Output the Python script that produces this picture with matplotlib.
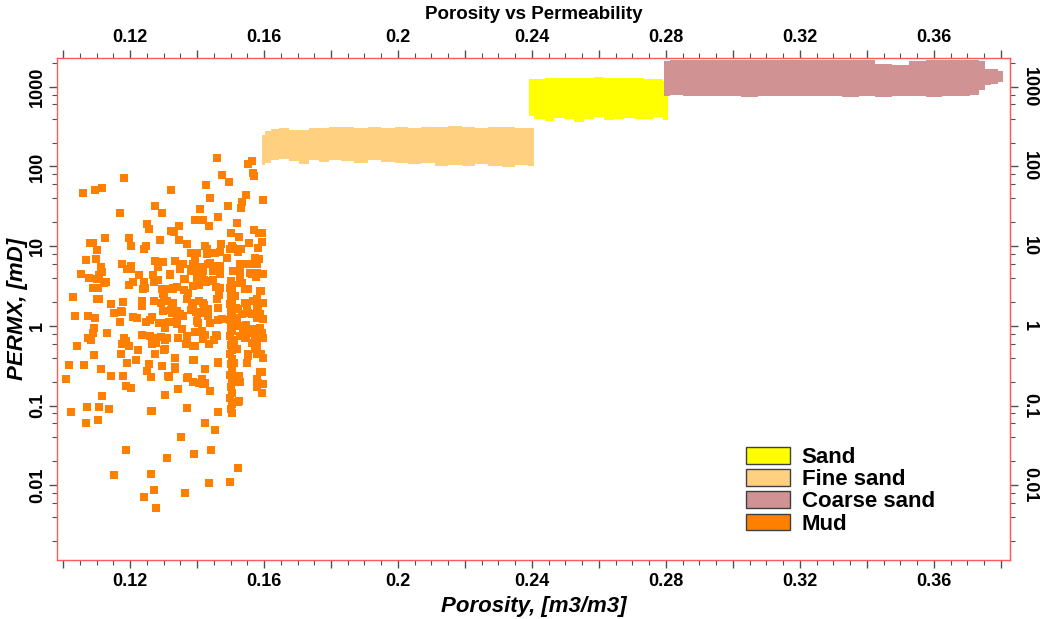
import matplotlib
matplotlib.use("Agg")
import matplotlib.pyplot as plt
from matplotlib.patches import Patch
from matplotlib.ticker import FixedLocator, MultipleLocator, FuncFormatter, NullFormatter

plt.rcParams['font.family'] = ['Liberation Sans', 'DejaVu Sans']

# facies colours
COLORS = {
    'Sand': '#ffff00',
    'Fine sand': '#ffd080',
    'Coarse sand': '#d09292',
    'Mud': '#ff8000',
}

# dense facies drawn as envelopes (porosity, upper perm, lower perm)
fine_x = [0.1595, 0.161, 0.163, 0.166, 0.169, 0.172, 0.175, 0.178, 0.181, 0.185,
          0.189, 0.193, 0.197, 0.201, 0.205, 0.209, 0.213, 0.217, 0.221, 0.225,
          0.229, 0.233, 0.237, 0.2405]
fine_top = [250, 280, 295, 300, 290, 285, 305, 300, 315, 310,
            305, 315, 300, 310, 305, 310, 315, 320, 310, 305,
            315, 310, 305, 300]
fine_bot = [105, 112, 120, 125, 118, 108, 122, 115, 120, 118,
            112, 120, 115, 112, 108, 110, 100, 104, 100, 106,
            102, 98, 104, 102]

sand_x = [0.2390, 0.2425, 0.245, 0.248, 0.251, 0.254, 0.257, 0.260, 0.263,
          0.266, 0.269, 0.272, 0.275, 0.278, 0.2805]
sand_top = [1250, 1270, 1280, 1290, 1300, 1300, 1290, 1310, 1300,
            1300, 1290, 1280, 1270, 1250, 1200]
sand_bot = [430, 390, 370, 410, 400, 360, 390, 420, 380,
            400, 410, 395, 400, 420, 380]

coarse_x = [0.2795, 0.283, 0.287, 0.291, 0.295, 0.30, 0.305, 0.31, 0.315, 0.32,
            0.325, 0.33, 0.335, 0.34, 0.345, 0.35, 0.355, 0.36, 0.365, 0.369,
            0.3725, 0.3745, 0.376, 0.378, 0.3805]
coarse_top = [2100, 2200, 2150, 2200, 2180, 2200, 2160, 2200, 2190, 2200,
              2180, 2200, 2150, 2150, 1950, 1900, 2100, 2150, 2150, 2150,
              2150, 2100, 1650, 1650, 1600]
coarse_bot = [760, 790, 760, 770, 760, 760, 750, 770, 760, 760,
              770, 760, 750, 760, 740, 760, 770, 750, 760, 760,
              800, 900, 1050, 1100, 1150]

# mud samples
mud_poro = [
    0.1460, 0.1475, 0.1496, 0.1552, 0.1564, 0.1567, 0.1570, 0.1597, 0.1060, 0.1096,
    0.1116, 0.1182, 0.1322, 0.1170, 0.1427, 0.1439, 0.1275, 0.1296, 0.1409, 0.1463,
    0.1493, 0.1531, 0.1534, 0.1546, 0.1394, 0.1418, 0.1436, 0.1251, 0.1257, 0.1346,
    0.1322, 0.1331, 0.1519, 0.1501, 0.1525, 0.1570, 0.1585, 0.1594, 0.1594, 0.1582,
    0.1081, 0.1090, 0.1125, 0.1101, 0.1197, 0.1203, 0.1290, 0.1346, 0.1370, 0.1242,
    0.1248, 0.1382, 0.1400, 0.1430, 0.1430, 0.1454, 0.1469, 0.1472, 0.1499, 0.1507,
    0.1531, 0.1555, 0.1069, 0.1054, 0.1099, 0.1113, 0.1116, 0.1107, 0.1128, 0.1122,
    0.1078, 0.1101, 0.1090, 0.1104, 0.1101, 0.1107, 0.1030, 0.1036, 0.1075, 0.1096,
    0.1143, 0.1152, 0.1179, 0.1173, 0.1176, 0.1191, 0.1203, 0.1203, 0.1197, 0.1209,
    0.1227, 0.1242, 0.1239, 0.1245, 0.1275, 0.1299, 0.1284, 0.1269, 0.1284, 0.1272,
    0.1334, 0.1358, 0.1319, 0.1328, 0.1299, 0.1394, 0.1388, 0.1394, 0.1382, 0.1409,
    0.1433, 0.1460, 0.1448, 0.1469, 0.1400, 0.1421, 0.1427, 0.1406, 0.1361, 0.1361,
    0.1373, 0.1448, 0.1457, 0.1466, 0.1236, 0.1236, 0.1272, 0.1293, 0.1301, 0.1319,
    0.1340, 0.1328, 0.1322, 0.1340, 0.1349, 0.1370, 0.1385, 0.1406, 0.1421, 0.1409,
    0.1433, 0.1507, 0.1528, 0.1534, 0.1534, 0.1543, 0.1558, 0.1579, 0.1564, 0.1576,
    0.1573, 0.1585, 0.1597, 0.1591, 0.1567, 0.1579, 0.1588, 0.1564, 0.1549, 0.1266,
    0.1209, 0.1221, 0.1490, 0.1424, 0.1504, 0.1522, 0.1528, 0.1382, 0.1439,
    # crowded middle
    0.1319, 0.1349, 0.1418, 0.1448, 0.1469, 0.1528, 0.1558, 0.1579, 0.1296, 0.1328,
    0.1364, 0.1388, 0.1415, 0.1439, 0.1469, 0.1528, 0.1552, 0.1588, 0.1310, 0.1388,
    0.1418, 0.1460, 0.1513, 0.1543, 0.1579, 0.1597, 0.1299, 0.1325, 0.1358, 0.1403,
    0.1433, 0.1463, 0.1522, 0.1552, 0.1582, 0.1597, 0.1304, 0.1340, 0.1400, 0.1439,
    0.1475, 0.1528, 0.1564, 0.1588, 0.1310, 0.1343, 0.1370, 0.1388, 0.1418, 0.1460,
    0.1528, 0.1543, 0.1573, 0.1579, 0.1304, 0.1334, 0.1388, 0.1463, 0.1552, 0.1579,
    0.1597, 0.1296, 0.1334, 0.1313, 0.1370, 0.1388, 0.1418, 0.1522, 0.1528, 0.1588,
    0.1582,
    # lower part
    0.1042, 0.1018, 0.1009, 0.1024, 0.1063, 0.1093, 0.1075, 0.1084, 0.1090, 0.1093,
    0.1131, 0.1113, 0.1116, 0.1072, 0.1069, 0.1107, 0.1104, 0.1137, 0.1143, 0.1170,
    0.1176, 0.1176, 0.1173, 0.1179, 0.1191, 0.1182, 0.1188, 0.1197, 0.1188, 0.1203,
    0.1224, 0.1218, 0.1236, 0.1248, 0.1260, 0.1251, 0.1257, 0.1263, 0.1275, 0.1260,
    0.1272, 0.1278, 0.1266, 0.1296, 0.1316, 0.1287, 0.1293, 0.1304, 0.1301, 0.1304,
    0.1263, 0.1316, 0.1334, 0.1343, 0.1325, 0.1334, 0.1340, 0.1355, 0.1355, 0.1370,
    0.1367, 0.1373, 0.1370, 0.1382, 0.1397, 0.1403, 0.1394, 0.1394, 0.1391, 0.1406,
    0.1415, 0.1424, 0.1424, 0.1424, 0.1415, 0.1433, 0.1427, 0.1439, 0.1436, 0.1451,
    0.1457, 0.1463, 0.1463, 0.1463, 0.1516, 0.1519, 0.1519, 0.1534, 0.1546, 0.1537,
    0.1549, 0.1510, 0.1519, 0.1510, 0.1525, 0.1525, 0.1546, 0.1564, 0.1573, 0.1579,
    0.1552, 0.1549, 0.1570, 0.1579, 0.1579, 0.1594, 0.1597, 0.1591, 0.1594, 0.1597,
    0.1579, 0.1594,
    # lowest values
    0.1188, 0.1152, 0.1266, 0.1352, 0.1310, 0.1263, 0.1272, 0.1242, 0.1278, 0.1364,
    0.1391, 0.1442, 0.1424, 0.1454, 0.1436, 0.1499, 0.1522, 0.1522, 0.1579,
    # column near 0.15
    0.1501, 0.1504, 0.1499, 0.1503, 0.1501, 0.1504, 0.1499, 0.1503, 0.1501, 0.1504,
    0.1499, 0.1503, 0.1501, 0.1504, 0.1499, 0.1503, 0.1501, 0.1504, 0.1499, 0.1503,
    0.1501, 0.1504, 0.1499, 0.1503, 0.1501, 0.1504, 0.1499, 0.1503, 0.1501, 0.1504,
]
mud_perm = [
    126, 79, 63, 109, 116, 82, 77, 38, 46, 50,
    54, 71, 50, 26, 59, 40, 32, 26, 29, 23.5,
    32, 30, 36, 44, 21.5, 21.5, 18, 19.2, 16.6, 18,
    15.7, 15.2, 19.8, 14.8, 13.2, 16.1, 14.8, 14.8, 11.4, 9.6,
    11.1, 11.1, 12.8, 9.0, 12.8, 10.1, 12.1, 11.8, 10.7, 9.3,
    10.1, 8.3, 8.3, 9.3, 8.0, 8.3, 8.5, 10.7, 9.3, 9.6,
    9.3, 11.1, 6.8, 4.5, 7.0, 5.5, 4.8, 4.4, 3.6, 3.4,
    4.0, 3.9, 3.0, 3.0, 2.2, 2.2, 2.3, 1.34, 1.34, 1.26,
    1.89, 1.46, 2.0, 1.55, 6.0, 5.2, 5.1, 5.7, 3.3, 3.5,
    4.3, 3.6, 2.9, 3.0, 6.6, 6.4, 5.5, 4.4, 3.8, 3.5,
    6.6, 5.9, 4.4, 3.0, 2.5, 6.8, 5.9, 4.9, 4.9, 5.4,
    5.9, 5.7, 5.2, 5.7, 4.0, 3.8, 3.5, 3.3, 3.9, 2.8,
    2.6, 3.8, 3.1, 2.45, 1.79, 2.06, 2.06, 1.95, 2.45, 2.9,
    3.1, 1.95, 1.59, 1.55, 1.42, 2.2, 1.95, 2.06, 1.84, 1.46,
    1.55, 4.9, 4.0, 6.0, 3.4, 2.9, 6.0, 5.9, 4.5, 4.1,
    7.2, 7.0, 4.5, 2.75, 2.06, 1.89, 1.42, 1.42, 1.79, 1.30,
    1.30, 1.26, 7.2, 10.1, 10.1, 8.5, 6.0, 5.2, 6.2,
    # crowded middle
    4.5, 5.2, 4.9, 4.9, 4.5, 4.9, 4.6, 4.6, 2.9, 2.9,
    3.9, 3.2, 3.9, 3.7, 3.0, 3.4, 2.9, 2.75, 2.06, 1.68,
    1.95, 2.2, 2.4, 1.95, 2.2, 1.95, 1.55, 1.68, 1.34, 1.46,
    1.64, 1.68, 1.64, 1.46, 1.64, 1.22, 0.94, 1.06, 1.16, 1.09,
    1.22, 1.0, 0.92, 0.94, 0.71, 0.71, 0.71, 0.56, 0.69, 0.75,
    0.75, 0.71, 0.71, 0.56, 0.51, 0.40, 0.37, 0.34, 0.42, 0.46,
    0.40, 0.31, 0.30, 0.235, 0.22, 0.20, 0.186, 0.235, 0.20, 0.26,
    0.19,
    # lower part
    0.56, 0.32, 0.215, 0.083, 0.32, 0.43, 0.71, 0.67, 0.82, 0.94,
    0.82, 0.29, 0.132, 0.096, 0.060, 0.096, 0.066, 0.090, 0.235, 1.12,
    1.50, 0.59, 0.44, 0.235, 0.34, 0.71, 0.65, 0.56, 0.176, 0.166,
    0.50, 0.37, 0.77, 1.12, 1.19, 0.27, 0.33, 0.23, 0.44, 0.75,
    0.71, 0.61, 0.59, 1.09, 1.12, 1.09, 0.73, 0.67, 0.50, 0.135,
    0.085, 0.23, 0.29, 0.16, 1.46, 1.50, 1.26, 1.34, 0.92, 0.75,
    0.59, 0.23, 0.093, 1.59, 1.50, 1.09, 0.84, 0.56, 0.37, 0.19,
    0.215, 0.19, 0.29, 0.77, 0.865, 1.34, 1.55, 0.152, 0.59, 0.67,
    0.77, 1.19, 0.35, 0.083, 1.68, 1.26, 1.06, 1.42, 1.03, 0.79,
    0.82, 0.65, 0.51, 0.34, 0.235, 0.114, 0.71, 0.61, 0.51, 0.44,
    0.44, 0.34, 0.865, 1.26, 1.68, 0.82, 0.71, 0.44, 0.26, 0.186,
    0.215, 0.143,
    # lowest values
    0.028, 0.0134, 0.085, 0.040, 0.022, 0.0137, 0.0087, 0.0071, 0.0052, 0.0080,
    0.0245, 0.028, 0.060, 0.049, 0.0106, 0.0109, 0.0163, 0.11, 0.17,
    # column near 0.15
    3.7, 3.3, 3.0, 2.7, 2.4, 2.1, 1.9, 1.7, 1.5, 1.35,
    1.2, 1.05, 0.95, 0.85, 0.75, 0.66, 0.58, 0.50, 0.44, 0.38,
    0.33, 0.28, 0.24, 0.20, 0.17, 0.145, 0.125, 0.105, 0.09, 0.08,
]

x_major = [0.10, 0.12, 0.14, 0.16, 0.18, 0.20, 0.22, 0.24, 0.26, 0.28, 0.30, 0.32, 0.34, 0.36, 0.38]
x_labelled = [0.12, 0.16, 0.20, 0.24, 0.28, 0.32, 0.36]
y_major = [0.01, 0.1, 1, 10, 100, 1000]

fig = plt.figure(figsize=(10.44, 6.19), dpi=100)
ax = fig.add_axes([0.0546, 0.0953, 0.9128, 0.8110])
ax.set_yscale('log')

ax.fill_between(fine_x, fine_bot, fine_top, step='mid', color=COLORS['Fine sand'], lw=0)
ax.fill_between(sand_x, sand_bot, sand_top, step='mid', color=COLORS['Sand'], lw=0)
ax.fill_between(coarse_x, coarse_bot, coarse_top, step='mid', color=COLORS['Coarse sand'], lw=0)
ax.scatter(mud_poro, mud_perm, marker='s', s=28, color=COLORS['Mud'], linewidths=0)

ax.set_xlim(0.0982, 0.3827)
ax.set_ylim(0.00115, 2300)

spine_color = '#ff5a5a'
tick_color = '#505050'
for sp in ax.spines.values():
    sp.set_color(spine_color)
    sp.set_linewidth(1.0)

def x_fmt(v, pos):
    for lv in x_labelled:
        if abs(v - lv) < 1e-6:
            return f'{lv:g}'
    return ''

lbl_size = 13

ax.xaxis.set_major_locator(FixedLocator(x_major))
ax.xaxis.set_minor_locator(MultipleLocator(0.005))
ax.xaxis.set_major_formatter(FuncFormatter(x_fmt))
ax.tick_params(axis='x', which='both', top=True, labeltop=True, direction='out',
               color=tick_color, labelsize=lbl_size, pad=3)
ax.tick_params(axis='x', which='major', length=6, width=1)
ax.tick_params(axis='x', which='minor', length=3.5, width=0.8)

y_minor = []
for dec in [0.001, 0.01, 0.1, 1, 10, 100, 1000]:
    for m in [2, 4, 6, 8]:
        y_minor.append(dec * m)

ax.yaxis.set_major_locator(FixedLocator(y_major))
ax.yaxis.set_minor_locator(FixedLocator(y_minor))
ax.yaxis.set_major_formatter(FuncFormatter(lambda v, p: f'{v:g}'))
ax.yaxis.set_minor_formatter(NullFormatter())
ax.tick_params(axis='y', which='both', direction='out', color=tick_color, labelsize=lbl_size, pad=2)
ax.tick_params(axis='y', which='major', length=6, width=1)
ax.tick_params(axis='y', which='minor', length=3.5, width=0.8)
for lab in ax.get_yticklabels():
    lab.set_rotation(90)
    lab.set_va('center')

for lab in ax.get_xticklabels() + ax.get_yticklabels():
    lab.set_fontweight('bold')

ax2 = ax.secondary_yaxis('right')
ax2.yaxis.set_major_locator(FixedLocator(y_major))
ax2.yaxis.set_minor_locator(FixedLocator(y_minor))
ax2.yaxis.set_major_formatter(FuncFormatter(lambda v, p: f'{v:g}'))
ax2.yaxis.set_minor_formatter(NullFormatter())
ax2.spines['right'].set_color(spine_color)
ax2.tick_params(axis='y', which='both', direction='out', color=tick_color, labelsize=lbl_size, pad=2)
ax2.tick_params(axis='y', which='major', length=6, width=1)
ax2.tick_params(axis='y', which='minor', length=3.5, width=0.8)
for lab in ax2.get_yticklabels():
    lab.set_rotation(270)
    lab.set_va('center')
    lab.set_fontweight('bold')

ax.set_xlabel('Porosity, [m3/m3]', fontsize=16, fontweight='bold', fontstyle='italic', labelpad=5)
ax.set_ylabel('PERMX, [mD]', fontsize=16, fontweight='bold', fontstyle='italic', labelpad=1)
ax.set_title('Porosity vs Permeability', fontsize=13.5, fontweight='bold', pad=28)

handles = [Patch(facecolor=COLORS[k], edgecolor='#404040', linewidth=1.0, label=k)
           for k in ['Sand', 'Fine sand', 'Coarse sand', 'Mud']]
fig.legend(handles=handles, loc='upper left', bbox_to_anchor=(746 / 1044, 1 - 447 / 619),
           frameon=False, borderpad=0, borderaxespad=0, handlelength=2.0, handleheight=0.78,
           handletextpad=0.5, labelspacing=0.05,
           prop={'family': ['Liberation Sans', 'DejaVu Sans'], 'weight': 'bold', 'size': 16})

fig.savefig('out.png', dpi=100)
